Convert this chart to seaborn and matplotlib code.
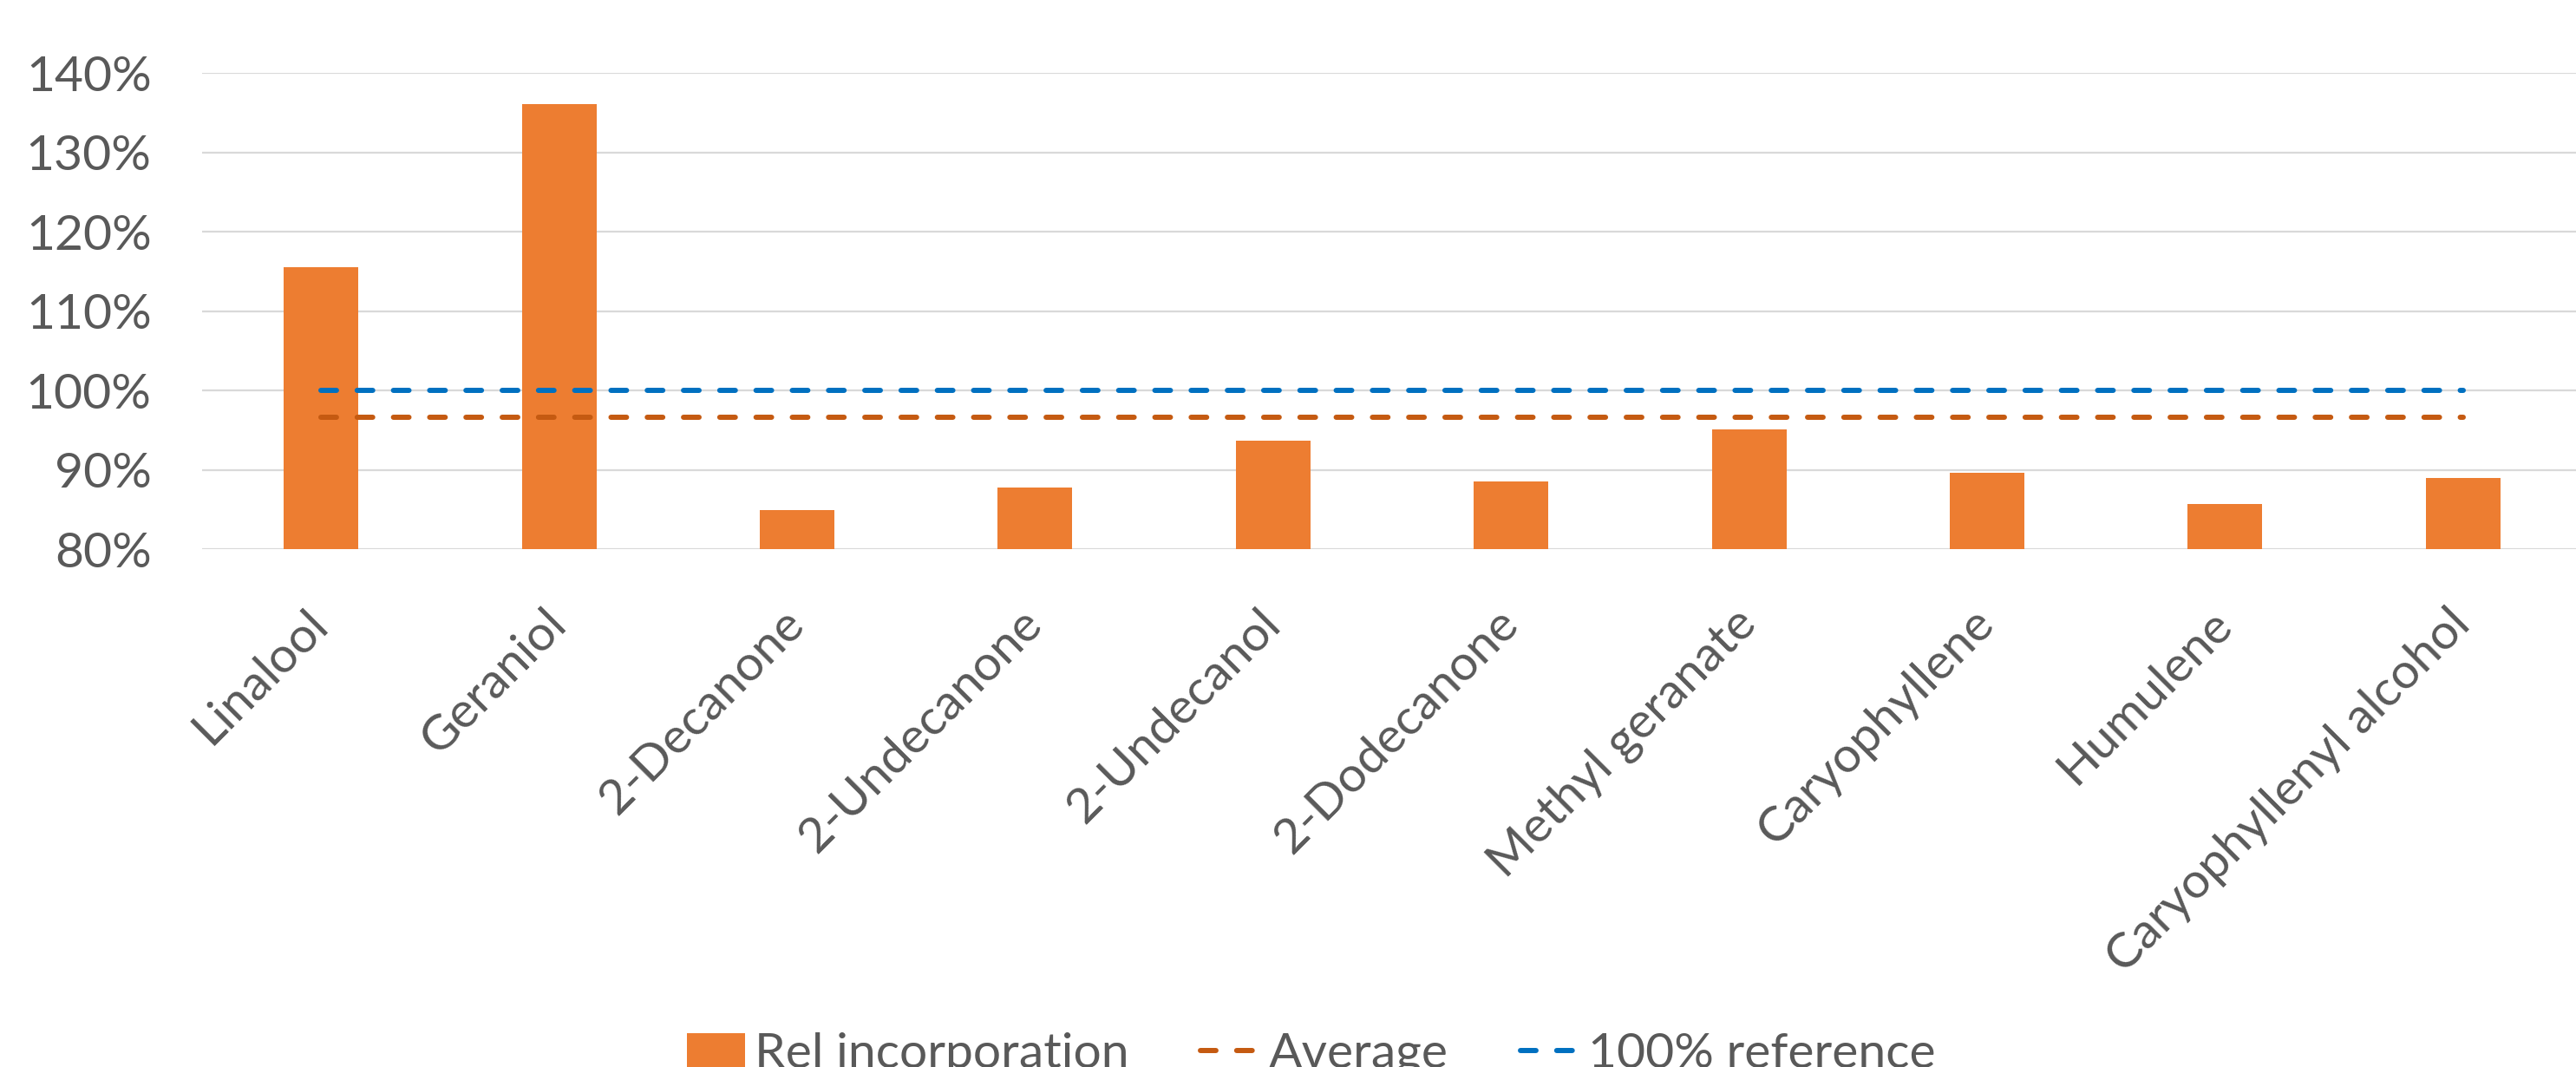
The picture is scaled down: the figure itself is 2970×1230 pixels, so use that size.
import numpy as np
import pandas as pd
import matplotlib
matplotlib.use("Agg")
import matplotlib.pyplot as plt
import seaborn as sns
from matplotlib.ticker import PercentFormatter, FixedLocator
from matplotlib.lines import Line2D
from matplotlib.patches import Patch
from matplotlib.transforms import ScaledTranslation

# ---------------- data ----------------
compounds = ["Linalool", "Geraniol", "2-Decanone", "2-Undecanone", "2-Undecanol",
             "2-Dodecanone", "Methyl geranate", "Caryophyllene", "Humulene",
             "Caryophyllenyl alcohol"]
rel_incorporation = [1.155, 1.361, 0.849, 0.878, 0.937, 0.885, 0.951, 0.896, 0.857, 0.890]
average_values = [0.966, 0.966, 0.966, 0.966, 0.966, 0.966, 0.966, 0.966, 0.966, 0.966]
reference_values = [1.0, 1.0, 1.0, 1.0, 1.0, 1.0, 1.0, 1.0, 1.0, 1.0]
y_ticks = [0.8, 0.9, 1.0, 1.1, 1.2, 1.3, 1.4]
legend_labels = ["Rel incorporation", "Average", "100% reference"]

# ---------------- style ----------------
BAR_COLOR = "#ED7D31"
AVG_COLOR = "#C55A11"
REF_COLOR = "#0070C0"
GRID_COLOR = "#D9D9D9"
TEXT_COLOR = "#595959"
FS = 41

sns.set_theme(style="white")
plt.rcParams['font.family'] = ['Lato', 'DejaVu Sans']

W, H = 2970, 1230
fig = plt.figure(figsize=(W / 100, H / 100), dpi=100)
left_px, right_px, top_px, bottom_px = 233, 2977, 84, 633
ax = fig.add_axes([left_px / W, 1 - bottom_px / H, (right_px - left_px) / W, (bottom_px - top_px) / H])

df = pd.DataFrame({"compound": compounds, "value": rel_incorporation})
sns.barplot(data=df, x="compound", y="value", color=BAR_COLOR, saturation=1,
            width=0.313, linewidth=0, ax=ax, zorder=3)

pos = np.arange(len(compounds))
line_kw = dict(linewidth=4.3, linestyle=(0, (3, 4)), dash_capstyle="round", legend=False, zorder=4)
sns.lineplot(x=pos, y=average_values, color=AVG_COLOR, ax=ax, **line_kw)
sns.lineplot(x=pos, y=reference_values, color=REF_COLOR, ax=ax, **line_kw)

ax.set_xlim(-0.5, len(compounds) - 0.5)
ax.set_ylim(y_ticks[0], y_ticks[-1])
ax.yaxis.set_major_locator(FixedLocator(y_ticks))
ax.yaxis.set_major_formatter(PercentFormatter(xmax=1, decimals=0))
ax.grid(axis="y", color=GRID_COLOR, linewidth=1.6, zorder=0)
ax.grid(axis="x", visible=False)
ax.set_axisbelow(True)
for s in ax.spines.values():
    s.set_visible(False)
ax.set_xlabel("")
ax.set_ylabel("")

ax.tick_params(axis="y", length=0, pad=42, labelsize=FS, labelcolor=TEXT_COLOR)
ax.tick_params(axis="x", length=0, pad=64, labelsize=FS, labelcolor=TEXT_COLOR)
ax.set_xticks(pos)
ax.set_xticklabels(compounds)
shift = ScaledTranslation(11 / 100, 0, fig.dpi_scale_trans)
for lab in ax.get_xticklabels():
    lab.set_rotation(45)
    lab.set_ha("right")
    lab.set_va("baseline")
    lab.set_rotation_mode("anchor")
    lab.set_transform(lab.get_transform() + shift)

handles = [
    Patch(facecolor=BAR_COLOR, edgecolor="none"),
    Line2D([0], [0], color=AVG_COLOR, linewidth=4.3, linestyle=(0, (3, 4)), dash_capstyle="round"),
    Line2D([0], [0], color=REF_COLOR, linewidth=4.3, linestyle=(0, (3, 4)), dash_capstyle="round"),
]
leg = fig.legend(handles, legend_labels, loc="lower center", bbox_to_anchor=(0.509, -0.009),
                 ncol=3, frameon=False, fontsize=FS, handlelength=1.19, handletextpad=0.19,
                 columnspacing=1.45, borderpad=0, borderaxespad=0)
for t in leg.get_texts():
    t.set_color(TEXT_COLOR)

fig.savefig("out.png", dpi=100)
